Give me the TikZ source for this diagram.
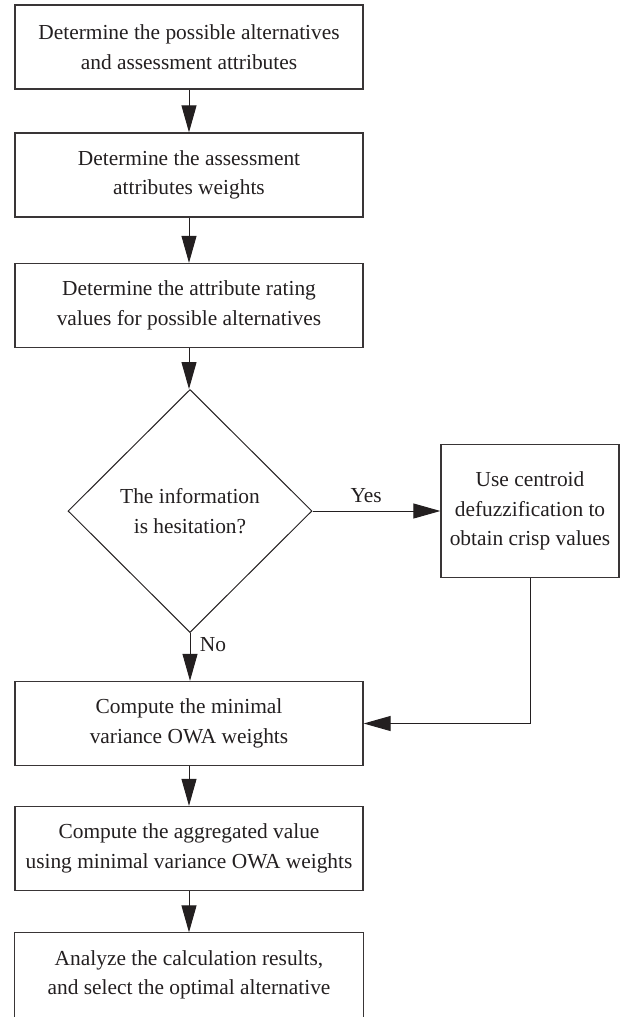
\documentclass[tikz,border=0pt]{standalone}
\usepackage{fontspec}
\setmainfont{Liberation Serif}
\usetikzlibrary{shapes.geometric,arrows.meta}
\definecolor{ink}{HTML}{231F20}
\begin{document}
\begin{tikzpicture}[x=1pt,y=-1pt,
  font=\fontsize{21.4}{29.5}\selectfont,
  every node/.style={text=ink},
  boxline/.style={draw=ink!90, line width=1.3pt},
  stepbox/.style={boxline, minimum width=348pt, minimum height=84pt, inner sep=0pt, align=center},
  sidebox/.style={boxline, minimum width=178pt, minimum height=133pt, inner sep=0pt, align=center},
  decision/.style={draw=ink, line width=1pt, diamond, aspect=1, minimum width=244pt, minimum height=243pt, inner sep=0pt, align=center},
  flow/.style={draw=ink, line width=1pt, -{Triangle[width=15pt,length=27pt]}}
]
\useasboundingbox (0,0) rectangle (622,1017);
\clip (0,0) rectangle (622,1017);
\node[stepbox] (b1) at (189,47) {Determine the possible alternatives\\and assessment attributes};
\node[stepbox] (b2) at (189,175) {Determine the assessment\\attributes weights};
\node[stepbox] (b3) at (189,305.5) {Determine the attribute rating\\values for possible alternatives};
\node[decision] (d) at (190,511) {The information\\is hesitation?};
\node[sidebox] (r) at (530,511) {Use centroid\\defuzzification to\\obtain crisp values};
\node[stepbox] (b5) at (189,723.5) {Compute the minimal\\variance OWA weights};
\node[stepbox] (b6) at (189,848.5) {Compute the aggregated value\\using minimal variance OWA weights};
\node[stepbox, draw=none] (b7) at (189,975) {Analyze the calculation results,\\and select the optimal alternative};
\draw[boxline] ([yshift=-30pt]b7.south west) -- (b7.north west) -- (b7.north east) -- ([yshift=-30pt]b7.south east);
\draw[flow] (b1) -- (b2);
\draw[flow] (b2) -- (b3);
\draw[flow] (b3.south) -- (b3.south |- d.north);
\draw[flow] (d.east) -- node[above=4pt, pos=0.42] {Yes} (r.west);
\draw[flow] (d.south) -- node[right=6pt, pos=0.25] {No} (d.south |- b5.north);
\draw[flow] (r.south) |- (b5.east);
\draw[flow] (b5) -- (b6);
\draw[flow] (b6) -- (b7);
\end{tikzpicture}
\end{document}
